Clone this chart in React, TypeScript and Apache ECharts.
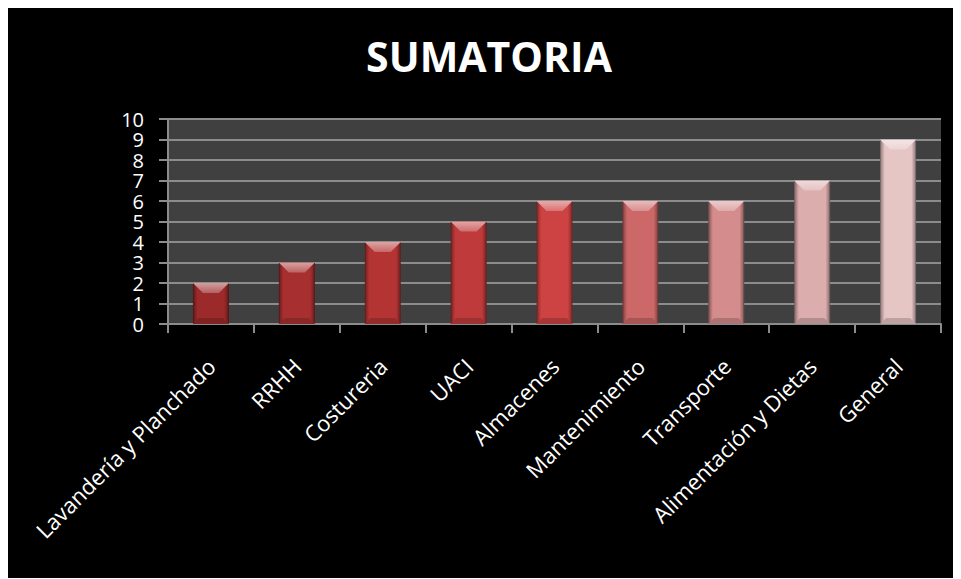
import React, { useEffect, useRef } from "react";
import * as echarts from "echarts";

const categories = [
  "Lavandería y Planchado",
  "RRHH",
  "Costureria",
  "UACI",
  "Almacenes",
  "Mantenimiento",
  "Transporte",
  "Alimentación y Dietas",
  "General",
];
const values = [2, 3, 4, 5, 6, 6, 6, 7, 9];
const yTicks = [0, 1, 2, 3, 4, 5, 6, 7, 8, 9, 10];
const titleText = "SUMATORIA";

const barPalette = [
  "#9c2a2a",
  "#a82f2f",
  "#b43434",
  "#bf3a3a",
  "#cd4242",
  "#cc6868",
  "#d48c8c",
  "#dcadad",
  "#e6c5c5",
];

function mix(hex: string, target: number, t: number): string {
  const n = parseInt(hex.slice(1), 16);
  const r = (n >> 16) & 255, g = (n >> 8) & 255, b = n & 255;
  const f = (c: number) => Math.round(c + (target - c) * t);
  return `rgb(${f(r)},${f(g)},${f(b)})`;
}

export default function App() {
  const ref = useRef<HTMLDivElement>(null);
  useEffect(() => {
    if (!ref.current) return;
    const chart = echarts.init(ref.current, null, { renderer: "svg" });
    const BAR_W = 36;
    chart.setOption({
      animation: false,
      backgroundColor: "#000000",
      title: {
        text: titleText,
        left: 476,
        top: 22,
        textAlign: "center",
        textStyle: {
          color: "#ffffff",
          fontFamily: "Open Sans",
          fontWeight: "bold",
          fontSize: 41,
        },
      },
      grid: {
        left: 160,
        right: 20,
        top: 111,
        bottom: 254,
        show: true,
        backgroundColor: "#404040",
        borderWidth: 0,
        containLabel: false,
      },
      xAxis: {
        type: "category",
        data: categories,
        boundaryGap: true,
        axisLine: { show: true, lineStyle: { color: "#8c8c8c", width: 2 } },
        axisTick: { show: true, alignWithLabel: false, length: 9, lineStyle: { color: "#8c8c8c", width: 2 } },
        axisLabel: {
          interval: 0,
          rotate: 45,
          margin: 38,
          color: "#ffffff",
          fontFamily: "Open Sans",
          fontSize: 22,
        },
      },
      yAxis: {
        type: "value",
        min: yTicks[0],
        max: yTicks[yTicks.length - 1],
        interval: 1,
        axisLine: { show: true, lineStyle: { color: "#8c8c8c", width: 2 } },
        axisTick: { show: true, length: 9, lineStyle: { color: "#8c8c8c", width: 2 } },
        splitLine: { show: true, lineStyle: { color: "#8c8c8c", width: 2 } },
        axisLabel: {
          showMinLabel: true,
          showMaxLabel: true,
          hideOverlap: false,
          margin: 24,
          color: "#ffffff",
          fontFamily: "Open Sans",
          fontSize: 20,
          lineHeight: 18,
        },
      },
      series: [
        {
          type: "bar",
          barWidth: BAR_W,
          data: values.map((v, i) => ({
            value: v,
            itemStyle: {
              color: new echarts.graphic.LinearGradient(0, 0, 1, 0, [
                { offset: 0, color: mix(barPalette[i], 0, 0.35) },
                { offset: 0.12, color: barPalette[i] },
                { offset: 0.88, color: barPalette[i] },
                { offset: 1, color: mix(barPalette[i], 0, 0.35) },
              ]),
              borderColor: mix(barPalette[i], 0, 0.45),
              borderWidth: 1,
            },
          })),
          z: 2,
        },
        {
          type: "custom",
          data: values.map((v, i) => [i, v]),
          z: 3,
          silent: true,
          renderItem: (params: any, api: any) => {
            const idx = api.value(0);
            const top = api.coord([idx, api.value(1)]);
            const base = api.coord([idx, 0]);
            const hw = BAR_W / 2;
            const d = 10;
            const c = barPalette[idx];
            return {
              type: "group",
              children: [
                {
                  type: "polygon",
                  shape: {
                    points: [
                      [top[0] - hw, top[1]],
                      [top[0] + hw, top[1]],
                      [top[0] + hw - d, top[1] + d],
                      [top[0] - hw + d, top[1] + d],
                    ],
                  },
                  style: {
                    fill: new echarts.graphic.LinearGradient(0, 0, 0, 1, [
                      { offset: 0, color: mix(c, 255, 0.55) },
                      { offset: 1, color: mix(c, 255, 0.25) },
                    ]),
                  },
                },
                {
                  type: "polygon",
                  shape: {
                    points: [
                      [base[0] - hw, base[1]],
                      [base[0] + hw, base[1]],
                      [base[0] + hw - 6, base[1] - 6],
                      [base[0] - hw + 6, base[1] - 6],
                    ],
                  },
                  style: { fill: mix(c, 0, 0.18) },
                },
              ],
            };
          },
        },
      ],
    });
    return () => chart.dispose();
  }, []);
  return <div ref={ref} style={{ width: 953, height: 570, background: "#000" }} />;
}
